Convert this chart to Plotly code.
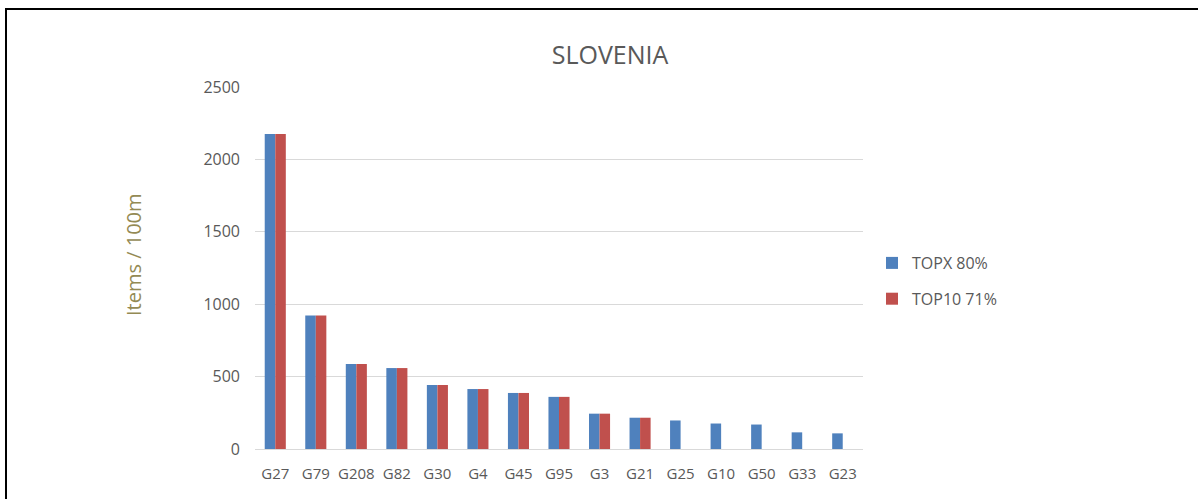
import plotly.graph_objects as go

categories = ['G27', 'G79', 'G208', 'G82', 'G30', 'G4', 'G45', 'G95',
              'G3', 'G21', 'G25', 'G10', 'G50', 'G33', 'G23']
topx_80 = [2175, 922, 587, 559, 442, 414, 387, 360, 244, 216, 197, 176, 169, 115, 108]
top10_71 = [2175, 922, 587, 559, 442, 414, 387, 360, 244, 216, None, None, None, None, None]

W, H = 1198, 499
L, R, T, B = 255, W - 863, 87, H - 449
pw, ph = W - L - R, H - T - B

def px(x):
    return (x - L) / pw

def py(y):
    return (H - B - y) / ph

font_fam = 'Open Sans, Liberation Sans, sans-serif'
grey = '#595959'

fig = go.Figure()
fig.add_trace(go.Bar(x=categories, y=topx_80, name='TOPX 80%',
                     marker=dict(color='#4F81BD', line=dict(width=0)),
                     legendgroup='a'))
fig.add_trace(go.Bar(x=categories, y=top10_71, name='TOP10 71%',
                     marker=dict(color='#C0504D', line=dict(width=0)),
                     legendgroup='b'))

fig.update_layout(
    width=W, height=H,
    margin=dict(l=L, r=R, t=T, b=B),
    paper_bgcolor='white', plot_bgcolor='white',
    font=dict(family=font_fam, color=grey, size=15),
    barmode='group', bargap=0.48, bargroupgap=0,
    title=dict(text='SLOVENIA', xref='container', x=610 / W, xanchor='center',
               yref='container', y=1 - 55 / H, yanchor='middle',
               font=dict(size=25, color=grey, family=font_fam)),
    xaxis=dict(showgrid=False, showline=False, ticks='', ticklabelstandoff=14,
               tickfont=dict(size=15, color=grey)),
    yaxis=dict(range=[0, 2500], dtick=500, showgrid=True, gridcolor='#D9D9D9',
               gridwidth=1, zeroline=True, zerolinecolor='#D9D9D9', zerolinewidth=1,
               showline=False, ticks='', ticklabelstandoff=14,
               tickfont=dict(size=16, color=grey)),
    legend=dict(x=px(872), y=py(246), xanchor='left', yanchor='top',
                tracegroupgap=12, font=dict(size=16, color=grey),
                itemwidth=30, bgcolor='rgba(0,0,0,0)'),
    showlegend=True,
)

fig.add_annotation(text='Items / 100m', xref='paper', yref='paper',
                   x=px(133), y=py(255), textangle=-90, showarrow=False,
                   xanchor='center', yanchor='middle',
                   font=dict(size=20, color='#948A54', family=font_fam))

# outer frame lines
fig.add_shape(type='line', xref='paper', yref='paper',
              x0=px(5), x1=px(1198), y0=py(9), y1=py(9),
              line=dict(color='black', width=2))
fig.add_shape(type='line', xref='paper', yref='paper',
              x0=px(6), x1=px(6), y0=py(8), y1=py(499),
              line=dict(color='black', width=2))

# drop the default page margin so the figure sits at the window corner
fig.write_html('out.html', config={'displayModeBar': False},
               post_script="document.body.style.margin='0';")
